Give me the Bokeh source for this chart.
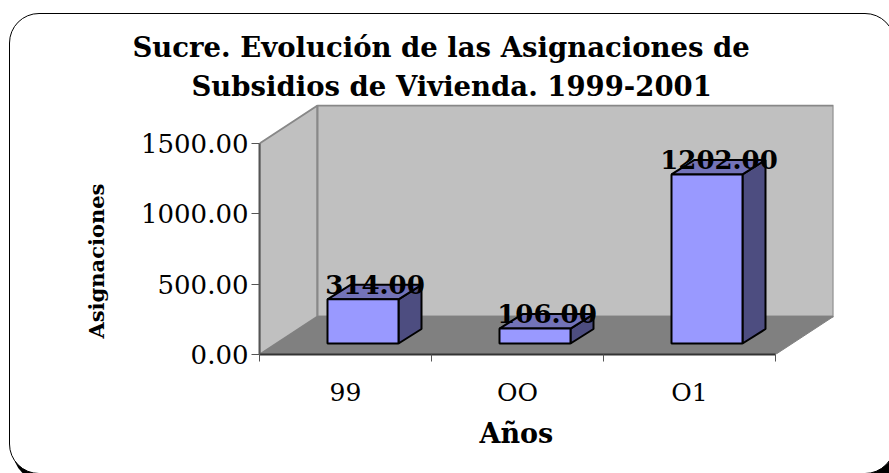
from bokeh.embed import file_html
from bokeh.resources import INLINE
from bokeh.plotting import figure
from bokeh.models import Range1d, FixedTicker, LinearAxis, Title
from bokeh.core.properties import value

years = ["99", "OO", "O1"]
asignaciones = [314.0, 106.0, 1202.0]
y_ticks = [0, 500, 1000, 1500]
title_lines = ["Sucre. Evolución de las Asignaciones de", "Subsidios de Vivienda. 1999-2001"]

FONT = "DejaVu Serif"
W, H = 889, 473
L, R, T, B = 259, 56, 104, 119      # margins round the frame
PX_Y = 1500 / 211.0                # data units per px
PX_X = 1 / 172.0

p = figure(width=W, height=H, output_backend="svg", toolbar_location=None,
           x_range=Range1d(0, (W - L - R) * PX_X), y_range=Range1d(0, (H - T - B) * PX_Y),
           min_border_left=L, min_border_right=R, min_border_top=T, min_border_bottom=B,
           x_axis_location=None, y_axis_location=None)
p.grid.visible = False
p.outline_line_color = None
p.background_fill_color = None
p.border_fill_color = None

# rounded chart frame with its shadow, behind the transparent canvas
p.stylesheets = [""":host { overflow: hidden; }
:host::before { content: ""; position: absolute; box-sizing: border-box; left: 9px; top: 13px; width: 886px; height: 461px;
  border: 1.5px solid #000; border-radius: 30px; box-shadow: 4px 7px 0 #000; background: #fff; }"""]

DX, DY = 58 * PX_X, 38 * PX_Y
XMAX = 3
YMAX = 1500
wall = "#c0c0c0"
edge = "#888888"
p.patch([0, DX, DX, 0], [YMAX, YMAX + DY, DY, 0], fill_color=wall, line_color=edge, line_width=2)
p.patch([DX, XMAX + DX, XMAX + DX, DX], [YMAX + DY, YMAX + DY, DY, DY], fill_color=wall, line_color=edge, line_width=2)
p.patch([0, DX, XMAX + DX, XMAX], [0, DY, DY, 0], fill_color="#808080", line_color="#808080", line_width=1)

# 3D bars
OFF_X, BW = 68 * PX_X, 71 * PX_X
BASE = 11 * PX_Y
BDX, BDY = 23 * PX_X, 14.5 * PX_Y
for i, v in enumerate(asignaciones):
    x0 = i + OFF_X
    x1 = x0 + BW
    y0 = BASE
    y1 = BASE + v
    p.patch([x1, x1 + BDX, x1 + BDX, x1], [y0, y0 + BDY, y1 + BDY, y1], fill_color="#4d4d80", line_color="black", line_width=2)
    p.patch([x0, x0 + BDX, x1 + BDX, x1], [y1, y1 + BDY, y1 + BDY, y1], fill_color="#7373b8", line_color="black", line_width=2)
    p.patch([x0, x1, x1, x0], [y0, y0, y1, y1], fill_color="#9999ff", line_color="black", line_width=2)
    p.text([x0 + BW / 2 + 12 * PX_X], [y1 + 15 * PX_Y], text=[f"{v:.2f}"], text_font=value(FONT),
           text_font_style="bold", text_font_size="26px", text_align="center", text_baseline="middle", text_color="black")

# axes
ya = LinearAxis(ticker=FixedTicker(ticks=y_ticks), bounds=(0, 1500))
ya.major_label_overrides = {t: f"{t:.2f}" for t in y_ticks}
ya.major_label_text_font = FONT
ya.major_label_text_font_size = "26px"
ya.major_label_text_color = "black"
ya.major_label_standoff = 3
ya.major_tick_out = 8
ya.major_tick_in = 0
ya.minor_tick_line_color = None
ya.axis_line_color = "#555555"
ya.axis_line_width = 2
ya.major_tick_line_color = "#555555"
p.add_layout(ya, "left")

xa = LinearAxis(ticker=FixedTicker(ticks=[0.5, 1.5, 2.5], minor_ticks=[0, 1, 2, 3]), bounds=(0, 3))
xa.major_label_overrides = {i + 0.5: c for i, c in enumerate(years)}
xa.major_label_text_font = FONT
xa.major_label_text_font_size = "25px"
xa.major_label_text_color = "black"
xa.major_label_standoff = 16
xa.major_tick_line_color = None
xa.major_tick_out = 0
xa.major_tick_in = 0
xa.minor_tick_out = 7
xa.minor_tick_in = 0
xa.minor_tick_line_color = "#555555"
xa.axis_line_color = "#333333"
xa.axis_line_width = 2
p.add_layout(xa, "below")

# axis titles as side titles, so they can sit off the frame's centre
p.add_layout(Title(text="Asignaciones", align="left", offset=16, text_font=FONT, text_font_style="bold",
                   text_font_size="21px", text_color="black", standoff=57), "left")
p.add_layout(Title(text="Años", align="left", offset=220, text_font=FONT, text_font_style="bold",
                   text_font_size="27px", text_color="black", standoff=13), "below")

# title, two stacked lines
for line, off, gap in zip(reversed(title_lines), [-68, -127], [6, 3]):
    p.add_layout(Title(text=line, align="left", offset=off, text_font=FONT, text_font_style="bold",
                       text_font_size="27.5px", text_color="black", standoff=gap), "above")

open("out.html", "w").write(file_html(p, INLINE))
